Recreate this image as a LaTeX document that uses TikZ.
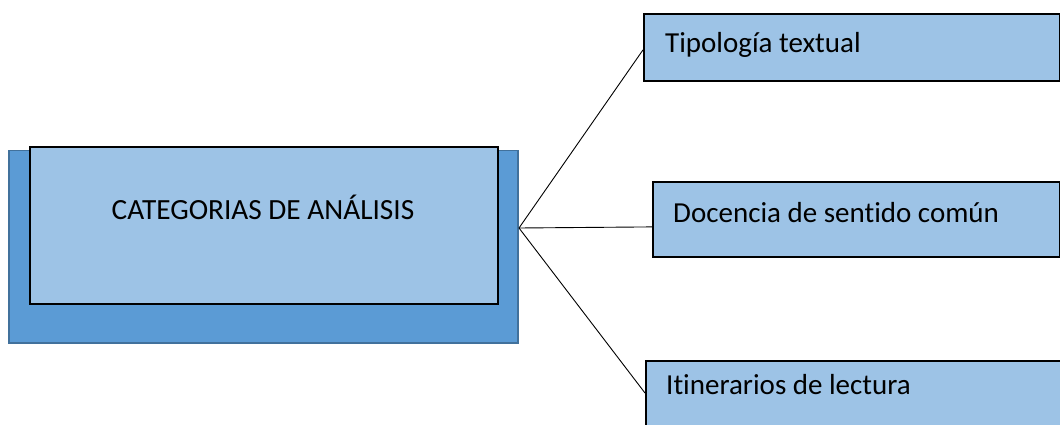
\documentclass[tikz,border=0pt]{standalone}
\usepackage{fontspec}
\setmainfont{Carlito}[Ligatures=NoCommon]
\definecolor{lightbox}{HTML}{9DC3E6}
\definecolor{darkbox}{HTML}{5B9BD5}
\definecolor{darkedge}{HTML}{41719C}
\begin{document}
\begin{tikzpicture}[x=1pt,y=-1pt,
  catbox/.style={draw=black,line width=1.8pt,fill=lightbox,inner sep=0pt,anchor=north west},
  shadowbox/.style={draw=darkedge,line width=1.5pt,fill=darkbox,inner sep=0pt,anchor=north west},
  lbl/.style={anchor=base west,inner sep=0pt,font=\fontsize{29}{34}\selectfont},
  link/.style={draw=black,line width=0.9pt}]
\useasboundingbox (0,0) rectangle (1060,425);
% main category block with its darker backing panel
\node[shadowbox,minimum width=509pt,minimum height=192pt] (back) at (8,150) {};
\node[catbox,minimum width=468pt,minimum height=157pt] (main) at (29,146) {};
\node[anchor=base,inner sep=0pt,font=\fontsize{29.3}{34}\selectfont] (maintxt) at (263,219) {CATEGORIAS DE ANÁLISIS};
% sub-category boxes
\node[catbox,minimum width=416pt,minimum height=67pt] (top) at (643,13) {};
\node[lbl] (toptxt) at (665,53) {Tipología textual};
\node[catbox,minimum width=407pt,minimum height=75pt] (mid) at (652,181) {};
\node[lbl] (midtxt) at (673,222) {Docencia de sentido común};
\node[catbox,minimum width=440pt,minimum height=80pt] (bot) at (645,360) {};
\node[lbl] (bottxt) at (666,394) {Itinerarios de lectura};
% connectors fanning out from one point
\coordinate (hub) at (519,228);
\draw[link] (hub) -- ([yshift=-2.5pt]top.west);
\draw[link] (hub) -- ([yshift=-7.5pt]mid.west);
\draw[link] (hub) -- ([yshift=-33pt]bot.north west);
\end{tikzpicture}
\end{document}
